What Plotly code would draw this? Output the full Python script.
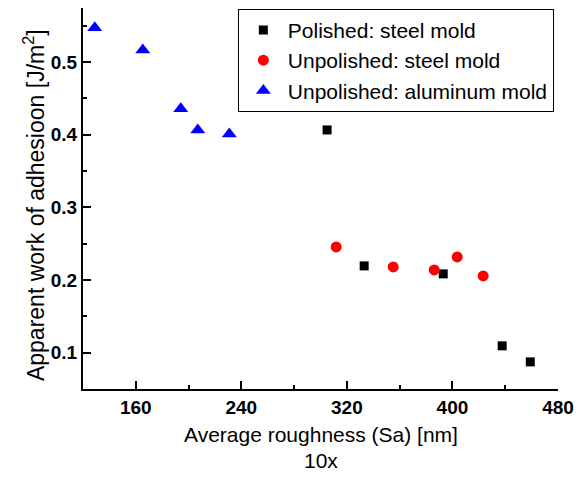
import plotly.graph_objects as go

# Data
polished_steel_x = [305.0, 333.1, 393.0, 437.7, 459.0]
polished_steel_y = [0.4065, 0.2194, 0.2084, 0.1094, 0.0873]

unpolished_steel_x = [311.9, 355.1, 386.2, 403.6, 423.3]
unpolished_steel_y = [0.2455, 0.218, 0.2139, 0.2318, 0.2056]

unpolished_al_x = [128.9, 165.3, 194.1, 207.0, 230.9]
unpolished_al_y = [0.547, 0.5165, 0.4358, 0.4065, 0.401]

x_ticks = [160, 240, 320, 400, 480]
y_ticks = [0.1, 0.2, 0.3, 0.4, 0.5]

x_title_line1 = "Average roughness (Sa) [nm]"
x_title_line2 = "10x"
y_title = "Apparent work of adhesioon [J/m<sup>2</sup>]"

FONT = "Liberation Sans, Arial, sans-serif"

fig = go.Figure()
fig.add_trace(go.Scatter(x=polished_steel_x, y=polished_steel_y, mode="markers",
                         name="Polished: steel mold",
                         marker=dict(symbol="square", size=9, color="black")))
fig.add_trace(go.Scatter(x=unpolished_steel_x, y=unpolished_steel_y, mode="markers",
                         name="Unpolished: steel mold",
                         marker=dict(symbol="circle", size=11, color="#ff0000")))
fig.add_trace(go.Scatter(x=unpolished_al_x, y=unpolished_al_y, mode="markers",
                         name="Unpolished: aluminum mold",
                         marker=dict(symbol="triangle-up", size=13, color="#0000ff")))

axis_common = dict(
    showline=True, linecolor="black", linewidth=2, mirror=False,
    showgrid=False, zeroline=False,
    ticks="inside", ticklen=8, tickwidth=2, tickcolor="black",
    tickfont=dict(family=FONT, size=19, color="black"),
)

fig.update_xaxes(
    range=[120, 480], tickvals=x_ticks, ticktext=[f"<b>{v}</b>" for v in x_ticks],
    minor=dict(ticks="inside", ticklen=4, tickwidth=2, tickcolor="black", dtick=40, tick0=0),
    **axis_common)
fig.update_yaxes(
    range=[0.05, 0.5743], tickvals=y_ticks, ticktext=[f"<b>{v:.1f}</b>" for v in y_ticks],
    minor=dict(ticks="inside", ticklen=4, tickwidth=2, tickcolor="black", dtick=0.05, tick0=0),
    **axis_common)

title_font = dict(family=FONT, size=21, color="black")
fig.add_annotation(text=x_title_line1, xref="paper", yref="paper", x=0.5, y=-0.1207,
                   xanchor="center", yanchor="middle", showarrow=False, font=title_font)
fig.add_annotation(text=x_title_line2, xref="paper", yref="paper", x=0.5, y=-0.1864,
                   xanchor="center", yanchor="middle", showarrow=False, font=title_font)
fig.add_annotation(text=y_title, xref="paper", yref="paper", x=-0.103, y=0.483,
                   xanchor="center", yanchor="middle", showarrow=False, textangle=-90,
                   font=dict(family=FONT, size=23, color="black"))

# The page body adds an 8 px offset; margins compensate so the plot sits where the reference has it
fig.update_layout(
    width=570, height=485,
    margin=dict(l=75, r=20, t=0, b=104, autoexpand=False),
    paper_bgcolor="white", plot_bgcolor="white",
    showlegend=True,
    legend=dict(x=0.326, y=0.998, xanchor="left", yanchor="top",
                bordercolor="black", borderwidth=1, bgcolor="white", itemwidth=39,
                font=dict(family=FONT, size=21, color="black")),
)

fig.write_html("out.html")
